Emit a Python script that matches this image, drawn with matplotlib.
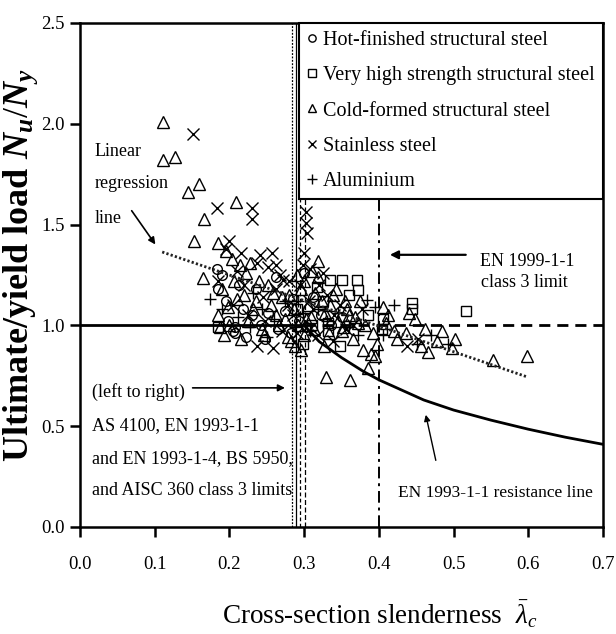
import matplotlib
matplotlib.use("Agg")
import matplotlib.pyplot as plt
from matplotlib.ticker import FormatStrFormatter

plt.rcParams['font.family'] = ['Liberation Serif', 'DejaVu Serif']
plt.rcParams['mathtext.fontset'] = 'custom'
plt.rcParams['mathtext.rm'] = 'Liberation Serif'
plt.rcParams['mathtext.it'] = 'Liberation Serif:italic'
plt.rcParams['mathtext.bf'] = 'Liberation Serif:bold'
try:
    plt.rcParams['mathtext.bfit'] = 'Liberation Serif:italic:bold'
    BFIT = True
except Exception:
    BFIT = False

# ---------------- data ----------------
hot_finished = [
    (0.183, 1.28), (0.190, 1.25), (0.207, 0.96), (0.207, 0.99), (0.205, 0.97), (0.230, 1.05), (0.248, 0.93),
    (0.185, 1.18), (0.195, 1.12), (0.218, 1.08), (0.235, 1.18), (0.252, 1.06), (0.265, 0.98), (0.275, 1.07),
    (0.285, 1.13), (0.293, 1.02), (0.303, 0.99), (0.312, 1.14), (0.322, 1.05), (0.336, 1.00), (0.262, 1.24),
    (0.242, 1.00), (0.222, 0.94), (0.198, 1.02), (0.282, 0.96), (0.350, 1.04), (0.300, 1.26), (0.213, 1.20),
]
very_high_strength = [
    (0.445, 1.11), (0.445, 1.08), (0.517, 1.07), (0.335, 1.225), (0.351, 1.225), (0.371, 1.225), (0.372, 1.175),
    (0.317, 1.19), (0.332, 1.01), (0.332, 0.97), (0.348, 0.90), (0.404, 0.98), (0.406, 1.03), (0.298, 0.91),
    (0.185, 0.99), (0.360, 1.15), (0.325, 1.12), (0.385, 1.05), (0.310, 1.00), (0.290, 1.08),
]
cold_formed = [
    (0.111, 2.01), (0.111, 1.82), (0.127, 1.835), (0.144, 1.66), (0.159, 1.70), (0.166, 1.53), (0.153, 1.42),
    (0.185, 1.41), (0.165, 1.235), (0.209, 1.61), (0.195, 1.37), (0.203, 1.33), (0.214, 1.30), (0.228, 1.31),
    (0.190, 1.18), (0.198, 1.09), (0.206, 1.22), (0.219, 1.15), (0.225, 1.02), (0.236, 1.12), (0.244, 0.98),
    (0.251, 1.20), (0.262, 1.05), (0.270, 1.14), (0.279, 0.94), (0.286, 1.08), (0.292, 1.00), (0.296, 1.18),
    (0.300, 0.95), (0.305, 1.10), (0.309, 1.04), (0.313, 0.98), (0.319, 1.32), (0.324, 1.12), (0.328, 1.06),
    (0.333, 0.96), (0.338, 1.15), (0.345, 1.02), (0.352, 0.99), (0.358, 1.08), (0.365, 0.93), (0.372, 1.01),
    (0.379, 0.88), (0.386, 0.79), (0.395, 0.85), (0.329, 0.745), (0.361, 0.73), (0.405, 1.09), (0.410, 1.01),
    (0.424, 0.93), (0.448, 1.03), (0.466, 0.87), (0.478, 0.92), (0.498, 0.89), (0.502, 0.93), (0.553, 0.83),
    (0.598, 0.85), (0.412, 1.05), (0.420, 0.97), (0.390, 0.86), (0.398, 0.91), (0.375, 1.12), (0.360, 1.05),
    (0.342, 1.18), (0.318, 1.24), (0.290, 1.25), (0.282, 0.92), (0.274, 1.03), (0.258, 1.16), (0.246, 0.95),
    (0.232, 1.08), (0.210, 1.13), (0.200, 1.00), (0.188, 0.99), (0.222, 1.26), (0.240, 1.22), (0.266, 1.00),
    (0.288, 0.90), (0.300, 1.22), (0.310, 1.27), (0.335, 1.10), (0.350, 0.97), (0.368, 1.04), (0.436, 0.96),
    (0.456, 0.90), (0.485, 0.97), (0.440, 1.06), (0.185, 1.05), (0.193, 0.95), (0.215, 0.93), (0.255, 1.10),
    (0.280, 1.15), (0.296, 0.88), (0.302, 1.03), (0.315, 1.16), (0.327, 0.90), (0.355, 1.12), (0.382, 1.00),
    (0.392, 0.96), (0.462, 0.98),
]
stainless = [
    (0.151, 1.95), (0.183, 1.58), (0.230, 1.58), (0.230, 1.53), (0.200, 1.42), (0.241, 1.35), (0.257, 1.36),
    (0.237, 1.31), (0.252, 1.29), (0.268, 1.25), (0.272, 1.225), (0.302, 1.56), (0.302, 1.51), (0.304, 1.46),
    (0.258, 0.89), (0.237, 0.90), (0.437, 0.90), (0.452, 0.93), (0.196, 1.38), (0.210, 1.27), (0.220, 1.20),
    (0.245, 1.14), (0.262, 1.18), (0.278, 1.10), (0.285, 1.05), (0.295, 1.20), (0.298, 1.30), (0.306, 1.12),
    (0.312, 1.08), (0.320, 1.20), (0.330, 1.15), (0.340, 1.05), (0.348, 1.10), (0.356, 0.98), (0.366, 1.00),
    (0.378, 1.08), (0.290, 0.96), (0.270, 0.97), (0.225, 1.05), (0.205, 1.10), (0.185, 1.22), (0.248, 1.02),
    (0.318, 0.95), (0.338, 0.92), (0.300, 1.36), (0.308, 1.28), (0.325, 1.26), (0.215, 1.36), (0.262, 1.30),
    (0.280, 1.22),
]
aluminium = [
    (0.174, 1.13), (0.384, 1.125), (0.395, 1.09), (0.451, 0.91), (0.190, 1.08), (0.212, 1.04), (0.228, 0.99),
    (0.243, 1.08), (0.260, 1.03), (0.275, 1.12), (0.288, 0.99), (0.298, 1.06), (0.308, 0.97), (0.318, 1.08),
    (0.330, 1.02), (0.345, 1.06), (0.360, 0.99), (0.372, 0.95), (0.405, 0.95), (0.420, 1.10), (0.470, 0.95),
    (0.492, 0.91), (0.250, 0.94), (0.232, 1.16), (0.292, 1.12),
]

series_labels = ["Hot-finished structural steel", "Very high strength structural steel",
                 "Cold-formed structural steel", "Stainless steel", "Aluminium"]
series_markers = ['o', 's', '^', 'x', '+']

regression_x = [0.11, 0.598]
regression_y = [1.364, 0.745]

resistance_x = [0.30, 0.32, 0.35, 0.38, 0.40, 0.43, 0.46, 0.50, 0.55, 0.60, 0.65, 0.70]
resistance_y = [1.00, 0.92, 0.84, 0.77, 0.73, 0.68, 0.63, 0.58, 0.53, 0.485, 0.445, 0.41]

class3_limits = [0.284, 0.289, 0.294, 0.301]   # AS 4100, EN 1993-1-1/1-4, BS 5950, AISC 360
en1999_limit = 0.40

x_ticks = [0.0, 0.1, 0.2, 0.3, 0.4, 0.5, 0.6, 0.7]
y_ticks = [0.0, 0.5, 1.0, 1.5, 2.0, 2.5]

# ---------------- figure ----------------
fig = plt.figure(figsize=(6.16, 6.34), dpi=100)
ax = fig.add_axes([0.1299, 0.1688, 0.849, 0.795])
ax.set_xlim(0, 0.7)
ax.set_ylim(0, 2.5)

# reference lines
ax.plot([0, 0.30], [1.0, 1.0], color='k', lw=2.0, zorder=2)
ax.plot([0.30, 0.70], [1.0, 1.0], color='k', lw=2.0, ls=(0, (4, 2.5)), zorder=2)
vstyles = [(0, (1.5, 1.2)), '-', (0, (3, 2)), (0, (4, 2))]
for xv, st in zip(class3_limits, vstyles):
    ax.axvline(xv, color='k', lw=0.9, ls=st, zorder=2)
ax.axvline(en1999_limit, color='k', lw=1.4, ls=(0, (6, 2.5, 1.5, 2.5)), zorder=2)

# data
groups = [hot_finished, very_high_strength, cold_formed, stainless, aluminium]
sizes = [7, 7, 8, 8, 9]
for pts, lab, mk, ms in zip(groups, series_labels, series_markers, sizes):
    xs = [p[0] for p in pts]
    ys = [p[1] for p in pts]
    ax.plot(xs, ys, ls='none', marker=mk, ms=ms, mfc='none', mec='k', mew=1.0,
            label=lab, zorder=3)

ax.plot(regression_x, regression_y, color='#222222', lw=2.0, ls=(0, (0.8, 0.8)), zorder=4)
ax.plot(resistance_x, resistance_y, color='k', lw=2.0, zorder=4)

# annotations
tfs = 13
ax.text(0.02, 1.84, "Linear", fontsize=tfs, va='baseline')
ax.text(0.02, 1.68, "regression", fontsize=tfs, va='baseline')
ax.text(0.02, 1.51, "line", fontsize=tfs, va='baseline')
ax.annotate("", xy=(0.103, 1.39), xytext=(0.067, 1.58),
            arrowprops=dict(arrowstyle='-|>', color='k', lw=1.2, mutation_scale=10))

ax.text(0.016, 0.645, "(left to right)", fontsize=tfs, va='baseline')
ax.text(0.016, 0.48, "AS 4100, EN 1993-1-1", fontsize=tfs, va='baseline')
ax.text(0.016, 0.317, "and EN 1993-1-4, BS 5950,", fontsize=tfs, va='baseline')
ax.text(0.016, 0.159, "and AISC 360 class 3 limits", fontsize=tfs, va='baseline')
ax.annotate("", xy=(0.278, 0.69), xytext=(0.147, 0.69),
            arrowprops=dict(arrowstyle='-|>', color='k', lw=1.2, mutation_scale=10))

ax.text(0.535, 1.295, "EN 1999-1-1", fontsize=tfs, va='baseline')
ax.text(0.537, 1.19, "class 3 limit", fontsize=tfs, va='baseline')
ax.annotate("", xy=(0.411, 1.35), xytext=(0.52, 1.35),
            arrowprops=dict(arrowstyle='-|>', color='k', lw=1.6, mutation_scale=12))

ax.text(0.425, 0.15, "EN 1993-1-1 resistance line", fontsize=12.5, va='baseline')
ax.annotate("", xy=(0.462, 0.57), xytext=(0.477, 0.317),
            arrowprops=dict(arrowstyle='-|>', color='k', lw=1.0, mutation_scale=9))

# legend
leg = ax.legend(loc='upper right', bbox_to_anchor=(1.0, 1.0), borderaxespad=0,
                frameon=True, fancybox=False, framealpha=1, edgecolor='k',
                handlelength=0.5, handletextpad=0.3, borderpad=0.4, labelspacing=0.8,
                markerscale=0.75, prop={'family': 'Liberation Serif', 'size': 14.5})
leg.get_frame().set_linewidth(1.5)
leg.set_zorder(6)

# axes styling
ax.set_xticks(x_ticks)
ax.set_yticks(y_ticks)
ax.xaxis.set_major_formatter(FormatStrFormatter('%.1f'))
ax.yaxis.set_major_formatter(FormatStrFormatter('%.1f'))
ax.tick_params(direction='out', length=7, width=1.8, labelsize=13.5)
ax.tick_params(axis='x', pad=14)
ax.tick_params(axis='y', pad=4)
for sp in ax.spines.values():
    sp.set_linewidth(1.8)

if BFIT:
    ylab = r"Ultimate/yield load $\mathbfit{N}_\mathbfit{u}/\mathbfit{N}_\mathbfit{y}$"
else:
    ylab = r"Ultimate/yield load $N_u/N_y$"
ax.set_ylabel(ylab, fontsize=26, fontweight='bold')
ax.yaxis.set_label_coords(-0.077, 0.52)
ax.set_xlabel(r"Cross-section slenderness  $\bar{\lambda}_c$", fontsize=19.5)
ax.xaxis.set_label_coords(0.572, -0.142)

fig.savefig("out.png", dpi=100)
